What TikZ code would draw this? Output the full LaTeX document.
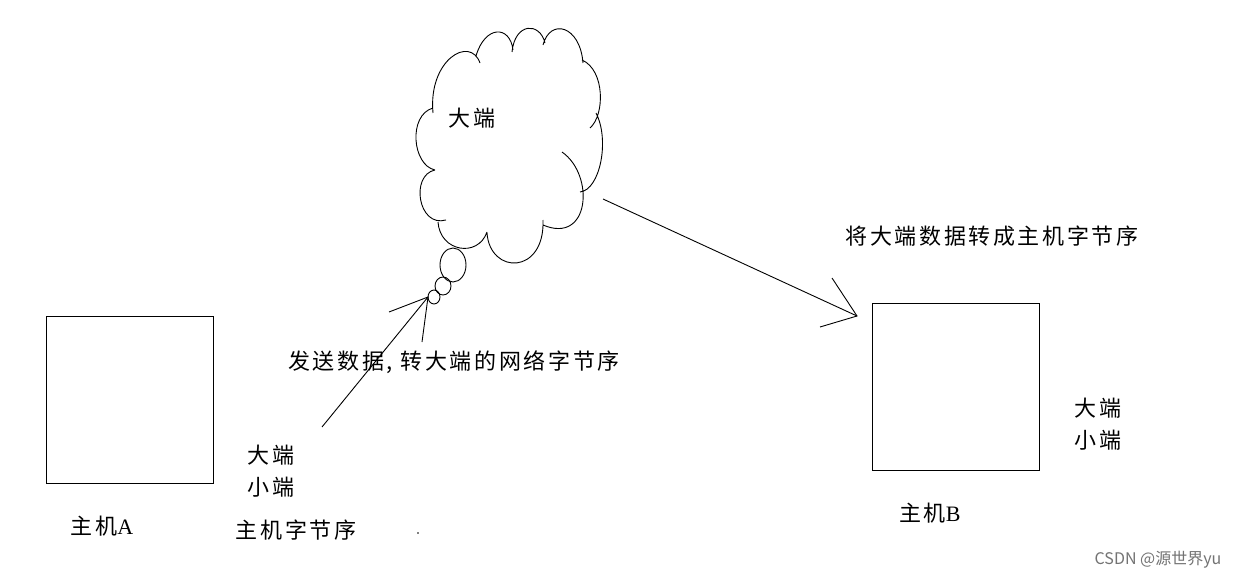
\documentclass[tikz,border=0pt]{standalone}
\usepackage{fontspec}
\newfontfamily\cjk{Noto Sans CJK SC}
\newfontfamily\cjkwide[LetterSpace=12]{Noto Sans CJK SC}
\newfontfamily\lat{Liberation Serif}
\begin{document}
\begin{tikzpicture}[x=1pt,y=-1pt,
  line/.style={line width=0.9pt,black},
  lbl/.style={font=\cjkwide\fontsize{22}{24}\selectfont,inner sep=0pt,text=black},
  hostbox/.style={draw,line width=0.9pt,minimum width=167pt,minimum height=167pt,inner sep=0pt},
  wm/.style={font=\cjk\fontsize{16}{18}\selectfont,inner sep=0pt,text=black!55}]
\useasboundingbox (0,0) rectangle (1238,580);
\fill[white] (0,0) rectangle (1238,580);
% host boxes
\node[hostbox] (A) at (129.5,399.5) {};
\node[hostbox] (B) at (955.5,387) {};
\node[lbl] (la) at (102,526) {主机{\lat A}};
\node[lbl] (lb) at (930,513) {主机{\lat B}};
% left labels
\node[lbl] (big1) at (271,455) {大端};
\node[lbl] (small1) at (271,487) {小端};
\node[lbl] (hostorder) at (296,530) {主机字节序};
\fill (418,533) circle (0.9pt);
\node[lbl] (send) at (454,362) {发送数据, 转大端的网络字节序};
% cloud
\draw[line]
  (435,170) .. controls (412,165) and (408,115) .. (433,108)
  (433,113) .. controls (428,60) and (470,35) .. (480,63)
  (476,56) .. controls (485,25) and (510,25) .. (513,50)
  (512,52) .. controls (515,22) and (540,22) .. (545,43)
  (543,45) .. controls (550,18) and (580,25) .. (583,63)
  (582,60) .. controls (605,70) and (605,115) .. (590,128)
  (596,113) .. controls (610,140) and (600,190) .. (580,192)
  (562,152) .. controls (595,175) and (590,245) .. (543,225)
  (543,220) .. controls (545,275) and (490,275) .. (487,233)
  (487,232) .. controls (478,258) and (440,252) .. (438,222)
  (446,220) .. controls (418,228) and (410,175) .. (435,170);
\draw[line] (453,265) ellipse (13 and 17);
\draw[line] (443,286) ellipse (8 and 9);
\draw[line] (434,297) ellipse (6 and 7);
\node[lbl] (cloudtxt) at (472,118) {大端};
% right labels
\node[lbl] (conv) at (992,236) {将大端数据转成主机字节序};
\node[lbl] (big2) at (1098,408) {大端};
\node[lbl] (small2) at (1098,440) {小端};
% arrow 1
\coordinate (s1) at (322,427);
\coordinate (t1) at (428,297);
\coordinate (b11) at (389,312);
\coordinate (b12) at (422,342);
\draw[line] (s1) -- (t1);
\draw[line] (b11) -- (t1) -- (b12);
% arrow 2
\coordinate (s2) at (603,199);
\coordinate (t2) at (857,316);
\coordinate (b21) at (832,278);
\coordinate (b22) at (820,327);
\draw[line] (s2) -- (t2);
\draw[line] (b21) -- (t2) -- (b22);
% watermark
\node[wm] (mark) at (1158,560) {CSDN @源世界yu};
\end{tikzpicture}
\end{document}
